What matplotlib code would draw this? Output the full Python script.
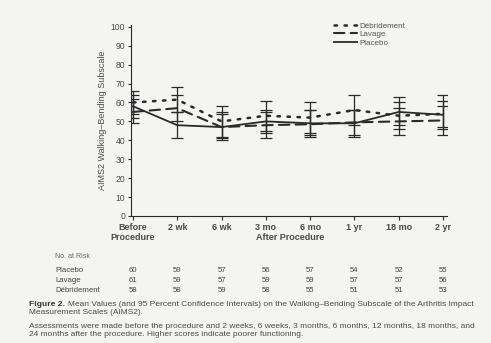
import matplotlib
matplotlib.use("Agg")
import matplotlib.pyplot as plt
import numpy as np

plt.rcParams['font.family'] = ['Liberation Sans', 'DejaVu Sans']

timepoints = ["Before\nProcedure", "2 wk", "6 wk", "3 mo", "6 mo", "1 yr", "18 mo", "2 yr"]

# mean and 95% CI
debr_mean = [60, 61.5, 50, 53, 52, 56, 53, 54]
debr_lo = [54, 55, 42, 45, 44, 48, 46, 46]
debr_hi = [66, 68, 58, 61, 60, 64, 60, 61]

lav_mean = [55, 57, 47, 48, 48.5, 49.5, 50, 50.5]
lav_lo = [49, 50, 40, 41, 42, 43, 43, 43]
lav_hi = [62, 64, 55, 55, 56, 56, 57, 58]

plac_mean = [58, 48, 47, 50, 49, 49, 55, 53.5]
plac_lo = [52, 41, 41, 44, 43, 42, 48, 47]
plac_hi = [64, 55, 54, 56, 56, 56, 63, 64]

risk_rows = ["Placebo", "Lavage", "Débridement"]
risk_placebo = [60, 59, 57, 56, 57, 54, 52, 55]
risk_lavage = [61, 59, 57, 59, 59, 57, 57, 56]
risk_debr = [58, 58, 59, 58, 55, 51, 51, 53]

bg = '#f4f4f3'
ink = '#2a2a2a'
grey = '#4a4a4a'

fig = plt.figure(figsize=(4.91, 3.43), dpi=100, facecolor=bg)
ax = fig.add_axes([0.2664, 0.3703, 0.645, 0.557])
ax.set_facecolor(bg)

x = np.arange(len(timepoints))

series = [
    (debr_mean, debr_lo, debr_hi, (0, (1, 3)), 1.8, "Débridement"),
    (lav_mean, lav_lo, lav_hi, (0, (5, 3)), 1.5, "Lavage"),
    (plac_mean, plac_lo, plac_hi, '-', 1.3, "Placebo"),
]
for m, lo, hi, ls, lw, lab in series:
    m = np.array(m)
    err = [m - np.array(lo), np.array(hi) - m]
    ax.errorbar(x, m, yerr=err, fmt='none', ecolor=ink, elinewidth=0.9,
                capsize=4, capthick=0.9)
    ax.plot(x, m, color=ink, linestyle=ls, linewidth=lw, label=lab,
            dash_capstyle='round')

ax.set_xlim(-0.05, 7.1)
ax.set_ylim(0, 101)
ax.set_yticks(range(0, 101, 10))
ax.set_xticks(x)
ax.set_xticklabels(timepoints, fontsize=6.5, fontweight='bold', linespacing=1.1)
ax.tick_params(axis='y', labelsize=6.2, colors=ink, length=2.5, width=0.8, pad=1.5)
ax.tick_params(axis='x', length=3, width=0.8, colors=ink, pad=2)
for lbl in ax.get_xticklabels() + ax.get_yticklabels():
    lbl.set_color(grey)
ax.spines['top'].set_visible(False)
ax.spines['right'].set_visible(False)
ax.spines['left'].set_color(ink)
ax.spines['bottom'].set_color(ink)
ax.set_ylabel("AIMS2 Walking–Bending Subscale", fontsize=6.5, color=grey,
              labelpad=3)

leg = fig.legend(loc='upper left', bbox_to_anchor=(334 / 491, 1 - 22 / 343),
                 fontsize=5.8, frameon=False, handlelength=2.9,
                 labelspacing=0.1, handletextpad=0.25, borderpad=0,
                 borderaxespad=0)
for t in leg.get_texts():
    t.set_color('#555555')

fig.text(290 / 491, 1 - 237 / 343, "After Procedure", fontsize=6.5,
         color=grey, fontweight='bold', ha='center', va='center')

# number at risk table
fig.text(55 / 491, 1 - 257 / 343, "No. at Risk", fontsize=5, color='#666666',
         va='center')
row_y = [270, 280, 290]
for name, vals, yy in zip(risk_rows, [risk_placebo, risk_lavage, risk_debr], row_y):
    fig.text(55 / 491, 1 - yy / 343, name, fontsize=5.6, color='#444444', va='center')
    for i, v in enumerate(vals):
        xp = 133 + i * (443 - 133) / 7
        fig.text(xp / 491, 1 - yy / 343, str(v), fontsize=5.6, color='#444444',
                 va='center', ha='center')

# caption, bold label followed by the rest of the line
fig_lbl = fig.text(29 / 491, 1 - 304 / 343, "Figure 2.", fontsize=6.1,
                   fontweight='bold', color='#333333', va='center')
fig.canvas.draw()
bb = fig_lbl.get_window_extent(renderer=fig.canvas.get_renderer())
x_after = (bb.x1 + 3) / fig.bbox.width
fig.text(x_after, 1 - 304 / 343,
         "Mean Values (and 95 Percent Confidence Intervals) on the Walking–Bending Subscale of the Arthritis Impact",
         fontsize=6.0, color=grey, va='center')
fig.text(29 / 491, 1 - 313 / 343, "Measurement Scales (AIMS2).", fontsize=6.0,
         color=grey, va='center')
fig.text(29 / 491, 1 - 326 / 343,
         "Assessments were made before the procedure and 2 weeks, 6 weeks, 3 months, 6 months, 12 months, 18 months, and",
         fontsize=6.0, color=grey, va='center')
fig.text(29 / 491, 1 - 335 / 343,
         "24 months after the procedure. Higher scores indicate poorer functioning.",
         fontsize=6.0, color=grey, va='center')

fig.savefig("out.png", dpi=100, facecolor=bg)
